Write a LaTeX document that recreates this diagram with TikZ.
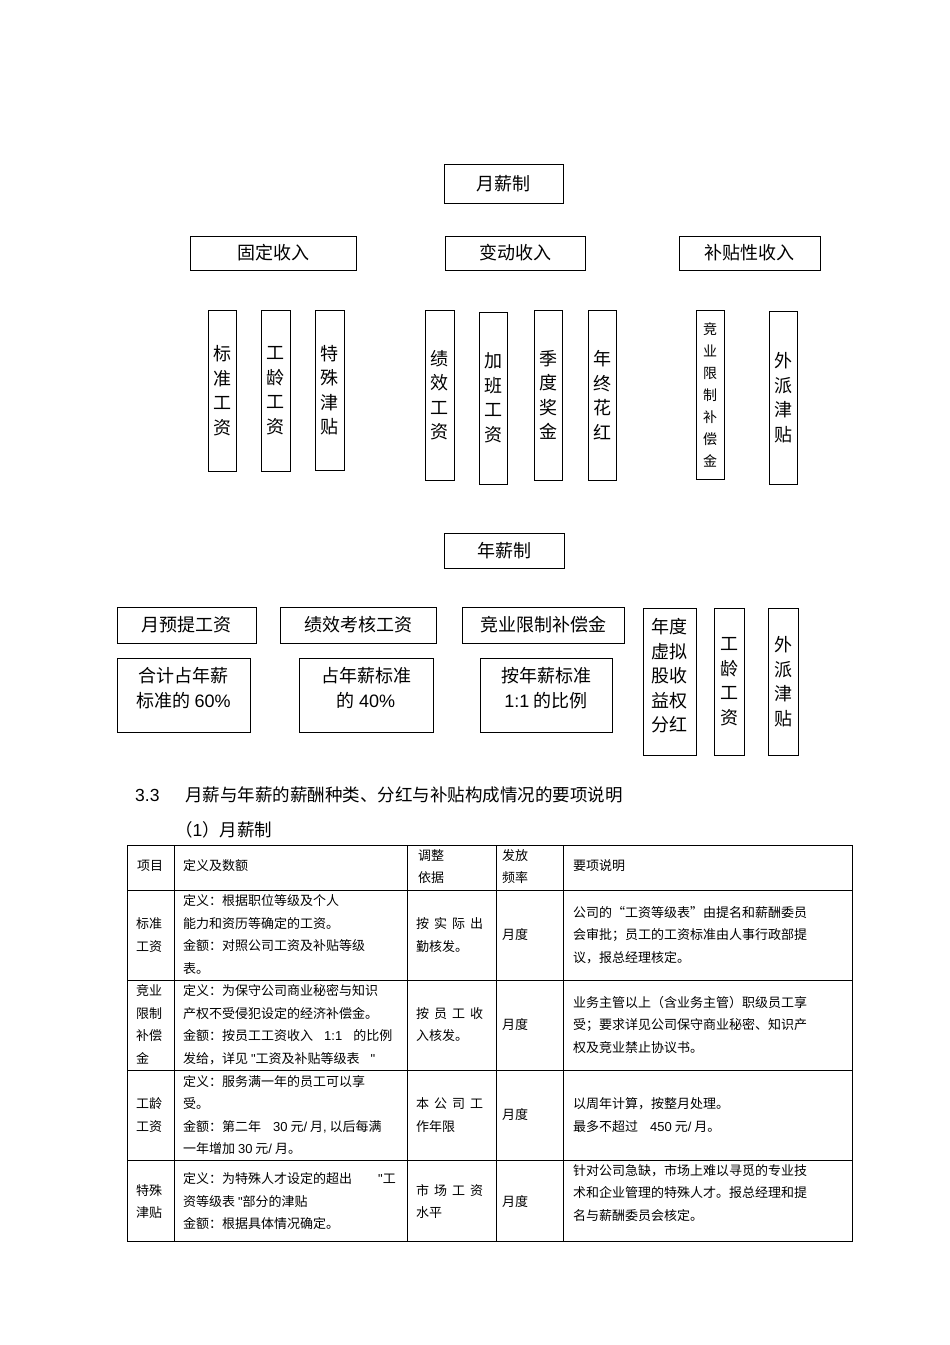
\documentclass[tikz,border=0pt]{standalone}
\usepackage{fontspec}
\setmainfont{Noto Sans CJK SC}
\newfontfamily\lat{Liberation Sans}
\usetikzlibrary{shadows}
\newcommand\gp{\hspace{5pt}}
\newcommand\qq{{\lat "}}
\newcommand\bxnode[6][]{%
 \pgfmathsetmacro\myBW{#5-#3}\pgfmathsetmacro\myBH{#6-#4}%
 \node[bx,#1,minimum width=\myBW pt,minimum height=\myBH pt] (#2) at ({(#3+#5)/2},{(#4+#6)/2})}
\tikzset{
 bx/.style={draw=black, line width=0.7pt, fill=white, inner sep=0pt, align=center,
   drop shadow={shadow xshift=1pt, shadow yshift=-1pt, opacity=1, fill=black!70},
   font=\fontsize{18}{24.5}\selectfont},
 smallv/.style={font=\fontsize{14}{22}\selectfont},
 tl/.style={anchor=west, inner sep=0pt, align=left, font=\fontsize{13}{22.5}\selectfont},
 hd/.style={anchor=west, inner sep=0pt, font=\fontsize{17.5}{20}\selectfont},
 tb/.style={draw=black, line width=0.8pt}
}
\begin{document}
\begin{tikzpicture}[x=1pt,y=-1pt]
\useasboundingbox[fill=white] (0,0) rectangle (950,1345);
% monthly
\bxnode{m}{444}{164}{563}{203}{月薪制};
\bxnode{f}{190}{236}{356}{270}{固定收入};
\bxnode{v}{445}{236}{585}{270}{变动收入};
\bxnode{s}{679}{236}{820}{270}{补贴性收入};
\bxnode{a1}{208}{310}{236}{471}{标\\准\\工\\资};
\bxnode{a2}{261}{310}{290}{471}{工\\龄\\工\\资};
\bxnode{a3}{315}{310}{344}{470}{特\\殊\\津\\贴};
\bxnode{b1}{425}{310}{454}{480}{绩\\效\\工\\资};
\bxnode{b2}{479}{312}{507}{484}{加\\班\\工\\资};
\bxnode{b3}{534}{310}{562}{480}{季\\度\\奖\\金};
\bxnode{b4}{588}{310}{616}{480}{年\\终\\花\\红};
\bxnode[smallv]{c1}{696}{310}{724}{479}{竞\\业\\限\\制\\补\\偿\\金};
\bxnode{c2}{769}{311}{797}{484}{外\\派\\津\\贴};
% annual
\bxnode{y}{444}{533}{564}{568}{年薪制};
\bxnode{y1}{117}{607}{256}{643}{月预提工资};
\bxnode{y2}{280}{607}{436}{643}{绩效考核工资};
\bxnode{y3}{462}{607}{624}{643}{竞业限制补偿金};
\bxnode{z1}{117}{658}{250}{732}{合计占年薪\\标准的 {\lat 60\%}\\[-9pt]\mbox{}};
\bxnode{z2}{299}{658}{433}{732}{占年薪标准\\的 {\lat 40\%}\\[-9pt]\mbox{}};
\bxnode{z3}{480}{658}{612}{732}{按年薪标准\\{\lat 1:1} 的比例\\[-9pt]\mbox{}};
\bxnode{w1}{643}{608}{696}{755}{年度\\虚拟\\股收\\益权\\分红\\[-12pt]\mbox{}};
\bxnode{w2}{714}{608}{744}{755}{工\\龄\\工\\资};
\bxnode{w3}{768}{608}{798}{755}{外\\派\\津\\贴};
% headings
\node[hd] (h1) at (135,795) {\lat 3.3};
\node[hd] (h2) at (185,795) {月薪与年薪的薪酬种类、分红与补贴构成情况的要项说明};
\node[hd] (h3) at (175,830) {（{\lat 1}）月薪制};
% table grid
\draw[tb] (127,845) rectangle (852,1241);
\foreach \yy in {890,980,1070,1160} \draw[tb] (127,\yy) -- (852,\yy);
\foreach \xx in {174,407,496,563} \draw[tb] (\xx,845) -- (\xx,1241);
% header
\node[tl] (t00) at (137,866) {项目};
\node[tl] (t01) at (183,866) {定义及数额};
\node[tl] (t02) at (418,866.5) {调整\\依据};
\node[tl] (t03) at (502,866.5) {发放\\频率};
\node[tl] (t04) at (573,866) {要项说明};
% row 1
\node[tl] (t10) at (136,935) {标准\\工资};
\node[tl] (t11) at (183,934.5) {定义：根据职位等级及个人\\能力和资历等确定的工资。\\金额：对照公司工资及补贴等级\\表。};
\node[tl] (t12) at (416,935) {按\gp 实\gp 际\gp 出\\勤核发。};
\node[tl] (t13) at (502,935) {月度};
\node[tl] (t14) at (573,935) {公司的“工资等级表”由提名和薪酬委员\\会审批；员工的工资标准由人事行政部提\\议，报总经理核定。};
% row 2
\node[tl] (t20) at (136,1024.5) {竞业\\限制\\补偿\\金};
\node[tl] (t21) at (183,1024.5) {定义：为保守公司商业秘密与知识\\产权不受侵犯设定的经济补偿金。\\金额：按员工工资收入\hspace{11pt}{\lat 1:1}\hspace{11pt}的比例\\发给，详见 \qq 工资及补贴等级表\hspace{11pt}\qq};
\node[tl] (t22) at (416,1024.5) {按\gp 员\gp 工\gp 收\\入核发。};
\node[tl] (t23) at (502,1025) {月度};
\node[tl] (t24) at (573,1024.5) {业务主管以上（含业务主管）职级员工享\\受；要求详见公司保守商业秘密、知识产\\权及竞业禁止协议书。};
% row 3
\node[tl] (t30) at (136,1115) {工龄\\工资};
\node[tl] (t31) at (183,1115) {定义：服务满一年的员工可以享\\受。\\金额：第二年\hspace{12pt}{\lat 30} 元{\lat /} 月{\lat ,} 以后每满\\一年增加 {\lat 30} 元{\lat /} 月。};
\node[tl] (t32) at (416,1115) {本\gp 公\gp 司\gp 工\\作年限};
\node[tl] (t33) at (502,1115) {月度};
\node[tl] (t34) at (573,1115) {以周年计算，按整月处理。\\最多不超过\hspace{12pt}{\lat 450} 元{\lat /} 月。};
% row 4
\node[tl] (t40) at (136,1201.5) {特殊\\津贴};
\node[tl] (t41) at (183,1201.5) {定义：为特殊人才设定的超出\hspace{26pt}\qq 工\\资等级表 \qq 部分的津贴\\金额：根据具体情况确定。};
\node[tl] (t42) at (416,1201.5) {市\gp 场\gp 工\gp 资\\水平};
\node[tl] (t43) at (502,1201.5) {月度};
\node[tl] (t44) at (573,1193) {针对公司急缺，市场上难以寻觅的专业技\\术和企业管理的特殊人才。报总经理和提\\名与薪酬委员会核定。};
\end{tikzpicture}
\end{document}
